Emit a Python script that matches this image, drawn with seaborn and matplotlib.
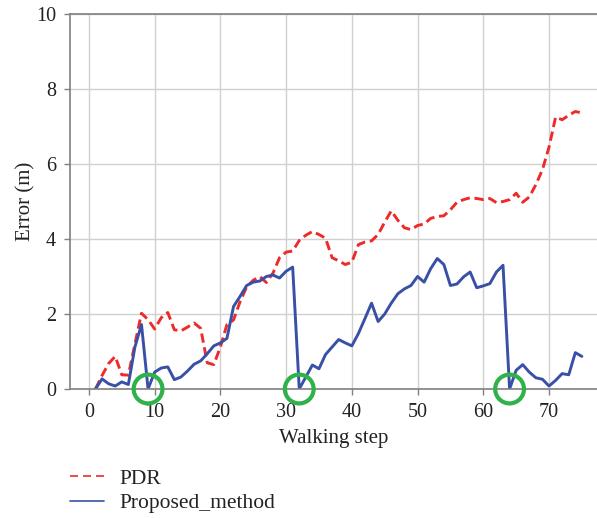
import seaborn as sns
import pandas as pd
import matplotlib.pyplot as plt

steps = list(range(1, 76))
pdr = [0.0, 0.36, 0.68, 0.87, 0.38, 0.37, 1.2, 2.02, 1.85, 1.6,
       1.9, 2.04, 1.58, 1.55, 1.65, 1.76, 1.62, 0.7, 0.65, 1.12,
       1.72, 1.84, 2.33, 2.72, 2.9, 3.0, 2.84, 3.09, 3.5, 3.65,
       3.68, 3.96, 4.1, 4.2, 4.12, 4.02, 3.5, 3.42, 3.32, 3.38,
       3.85, 3.92, 3.95, 4.12, 4.45, 4.75, 4.5, 4.3, 4.25, 4.36,
       4.4, 4.55, 4.6, 4.62, 4.78, 4.98, 5.05, 5.1, 5.08, 5.05,
       5.08, 4.97, 5.0, 5.05, 5.22, 4.98, 5.12, 5.45, 5.85, 6.45,
       7.25, 7.18, 7.3, 7.4, 7.36]
proposed = [0.0, 0.27, 0.14, 0.08, 0.19, 0.12, 1.12, 1.72, 0.0, 0.45,
            0.56, 0.59, 0.25, 0.32, 0.48, 0.66, 0.75, 0.94, 1.15, 1.23,
            1.35, 2.2, 2.47, 2.76, 2.85, 2.88, 3.0, 3.04, 2.96, 3.14,
            3.25, 0.0, 0.32, 0.64, 0.54, 0.92, 1.12, 1.32, 1.23, 1.15,
            1.48, 1.88, 2.29, 1.8, 2.0, 2.29, 2.54, 2.67, 2.76, 3.0,
            2.85, 3.21, 3.48, 3.32, 2.76, 2.8, 2.99, 3.12, 2.7, 2.75,
            2.81, 3.12, 3.3, 0.0, 0.5, 0.65, 0.45, 0.3, 0.26, 0.08,
            0.23, 0.41, 0.38, 0.97, 0.87]
reset_steps = [9, 32, 64]
reset_vals = [0, 0, 0]

df = pd.DataFrame({"step": steps, "PDR": pdr, "Proposed_method": proposed})

sns.set_style("white")
plt.rcParams['font.family'] = ['Liberation Serif', 'DejaVu Serif']

fig = plt.figure(figsize=(5.97, 5.18), dpi=100)
ax = fig.add_axes([0.117, 0.249, 0.883, 0.724])

sns.lineplot(data=df, x="step", y="PDR", ax=ax, color="#ee2b2b",
             linestyle=(0, (3.2, 1.6)), linewidth=2.1, label="PDR")
sns.lineplot(data=df, x="step", y="Proposed_method", ax=ax, color="#3850a6",
             linewidth=2.1, label="Proposed_method")
ax.scatter(reset_steps, reset_vals, s=430, facecolors="none",
           edgecolors="#2fb24a", linewidths=3, zorder=5, clip_on=False)

ax.set_xlim(-2.9, 77.3)
ax.set_ylim(0, 10)
ax.set_xticks(range(0, 80, 10))
ax.set_yticks(range(0, 12, 2))
ax.grid(True, color="#d0d0d0", linewidth=1)
ax.set_axisbelow(True)
for s in ["left", "top", "bottom"]:
    ax.spines[s].set_color("#808080")
    ax.spines[s].set_linewidth(1.2)
ax.spines["right"].set_visible(False)
ax.tick_params(axis="both", direction="out", length=4, width=1, color="#808080",
               labelsize=14.5, labelcolor="#222222", left=True, bottom=True, pad=6)
ax.set_xlabel("Walking step", fontsize=15, color="#222222", labelpad=5)
ax.set_ylabel("Error (m)", fontsize=15, color="#222222", labelpad=0)

leg = ax.legend(loc="upper left", bbox_to_anchor=(-0.016, -0.19), frameon=False,
                fontsize=15.5, handlelength=1.6, handletextpad=0.7, labelspacing=0.2,
                borderaxespad=0)
for line in leg.get_lines():
    line.set_linewidth(1.2)
leg.get_lines()[0].set_linestyle((0, (4.8, 3)))
for t in leg.get_texts():
    t.set_color("#222222")

fig.savefig("out.png", dpi=100)
